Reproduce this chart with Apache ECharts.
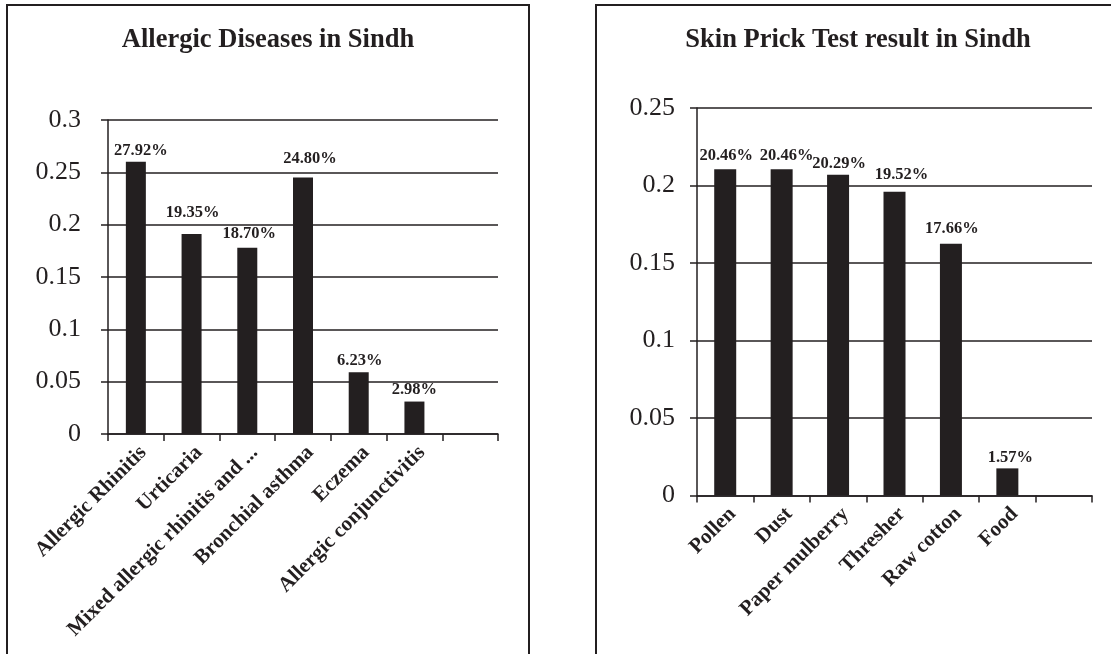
<!DOCTYPE html>
<html>
<head>
<meta charset="utf-8">
<script src="https://cdn.jsdelivr.net/npm/echarts@6/dist/echarts.min.js"></script>
<style>
  html, body { margin: 0; padding: 0; background: #ffffff; }
  #chart { width: 1111px; height: 654px; }
</style>
</head>
<body>
<div id="chart"></div>
<script>
// ---- data ----
const leftTitle = 'Allergic Diseases in Sindh';
const leftCategories = ['Allergic Rhinitis', 'Urticaria', 'Mixed allergic rhinitis and ...', 'Bronchial asthma', 'Eczema', 'Allergic conjunctivitis'];
const leftValues = [0.26, 0.191, 0.178, 0.245, 0.059, 0.031];
const leftLabels = ['27.92%', '19.35%', '18.70%', '24.80%', '6.23%', '2.98%'];
const leftAxisMax = 0.3;

const rightTitle = 'Skin Prick Test result in Sindh';
const rightCategories = ['Pollen', 'Dust', 'Paper mulberry', 'Thresher', 'Raw cotton', 'Food'];
const rightValues = [0.2105, 0.2105, 0.207, 0.196, 0.1625, 0.0175];
const rightLabels = ['20.46%', '20.46%', '20.29%', '19.52%', '17.66%', '1.57%'];
const rightAxisMax = 0.25;

const axisStep = 0.05;

// ---- styling ----
const INK = '#231f20';
const SERIF = 'Liberation Serif';
// small label nudges [dx, dy] as in the reference
const leftNudge = [[5, 0], [1, -10], [2, -2], [7, -7], [1, 0], [0, 0]];
const rightNudge = [[1, -2], [5, -2], [1, 1], [7, -5], [1, -3], [3, 1]];

function seriesData(values, labels, nudge) {
  return values.map((v, i) => ({
    value: v,
    label: { formatter: labels[i], offset: nudge[i] }
  }));
}

function xAxisFor(gridIndex, cats) {
  return {
    type: 'category',
    gridIndex: gridIndex,
    data: cats.concat(['']),
    boundaryGap: true,
    axisLine: { show: true, lineStyle: { color: INK, width: 1.5 } },
    axisTick: { show: true, length: 7, inside: false, lineStyle: { color: INK, width: 1.5 } },
    axisLabel: {
      interval: 0, rotate: 45, margin: 8, verticalAlign: 'top',
      fontFamily: SERIF, fontWeight: 'bold', fontSize: 21, color: INK
    },
    splitLine: { show: false }
  };
}

function yAxisFor(gridIndex, max, margin) {
  return {
    type: 'value',
    gridIndex: gridIndex,
    min: 0, max: max, interval: axisStep,
    axisLine: { show: true, lineStyle: { color: INK, width: 1.5 } },
    axisTick: { show: true, length: 7, lineStyle: { color: INK, width: 1.5 } },
    axisLabel: { fontFamily: SERIF, fontSize: 26, color: INK, margin: margin },
    splitLine: { show: true, lineStyle: { color: INK, width: 1.5 } }
  };
}

function barSeries(idx, values, labels, nudge, width) {
  return {
    type: 'bar',
    xAxisIndex: idx, yAxisIndex: idx,
    barWidth: width,
    itemStyle: { color: INK },
    label: {
      show: true, position: 'top', distance: 3,
      fontFamily: SERIF, fontWeight: 'bold', fontSize: 16.5, color: INK
    },
    data: seriesData(values, labels, nudge),
    animation: false
  };
}

const chart = echarts.init(document.getElementById('chart'), null, { renderer: 'canvas' });
chart.setOption({
  backgroundColor: '#ffffff',
  animation: false,
  title: [
    { text: leftTitle, left: 268, top: 27, textAlign: 'center', padding: 0,
      textStyle: { fontFamily: SERIF, fontWeight: 'bold', fontSize: 26.5, color: INK } },
    { text: rightTitle, left: 858, top: 27, textAlign: 'center', padding: 0,
      textStyle: { fontFamily: SERIF, fontWeight: 'bold', fontSize: 26.5, color: INK } }
  ],
  graphic: [
    { type: 'rect', shape: { x: 7, y: 5, width: 522, height: 700 }, silent: true, z: -1,
      style: { fill: 'none', stroke: INK, lineWidth: 2 } },
    { type: 'rect', shape: { x: 596, y: 5, width: 530, height: 700 }, silent: true, z: -1,
      style: { fill: 'none', stroke: INK, lineWidth: 2 } }
  ],
  grid: [
    { left: 108, top: 120, width: 390, height: 314, containLabel: false },
    { left: 697, top: 108, width: 395, height: 387.5, containLabel: false }
  ],
  xAxis: [xAxisFor(0, leftCategories), xAxisFor(1, rightCategories)],
  yAxis: [yAxisFor(0, leftAxisMax, 27), yAxisFor(1, rightAxisMax, 22)],
  series: [
    barSeries(0, leftValues, leftLabels, leftNudge, 20),
    barSeries(1, rightValues, rightLabels, rightNudge, 22)
  ]
});
</script>
</body>
</html>
